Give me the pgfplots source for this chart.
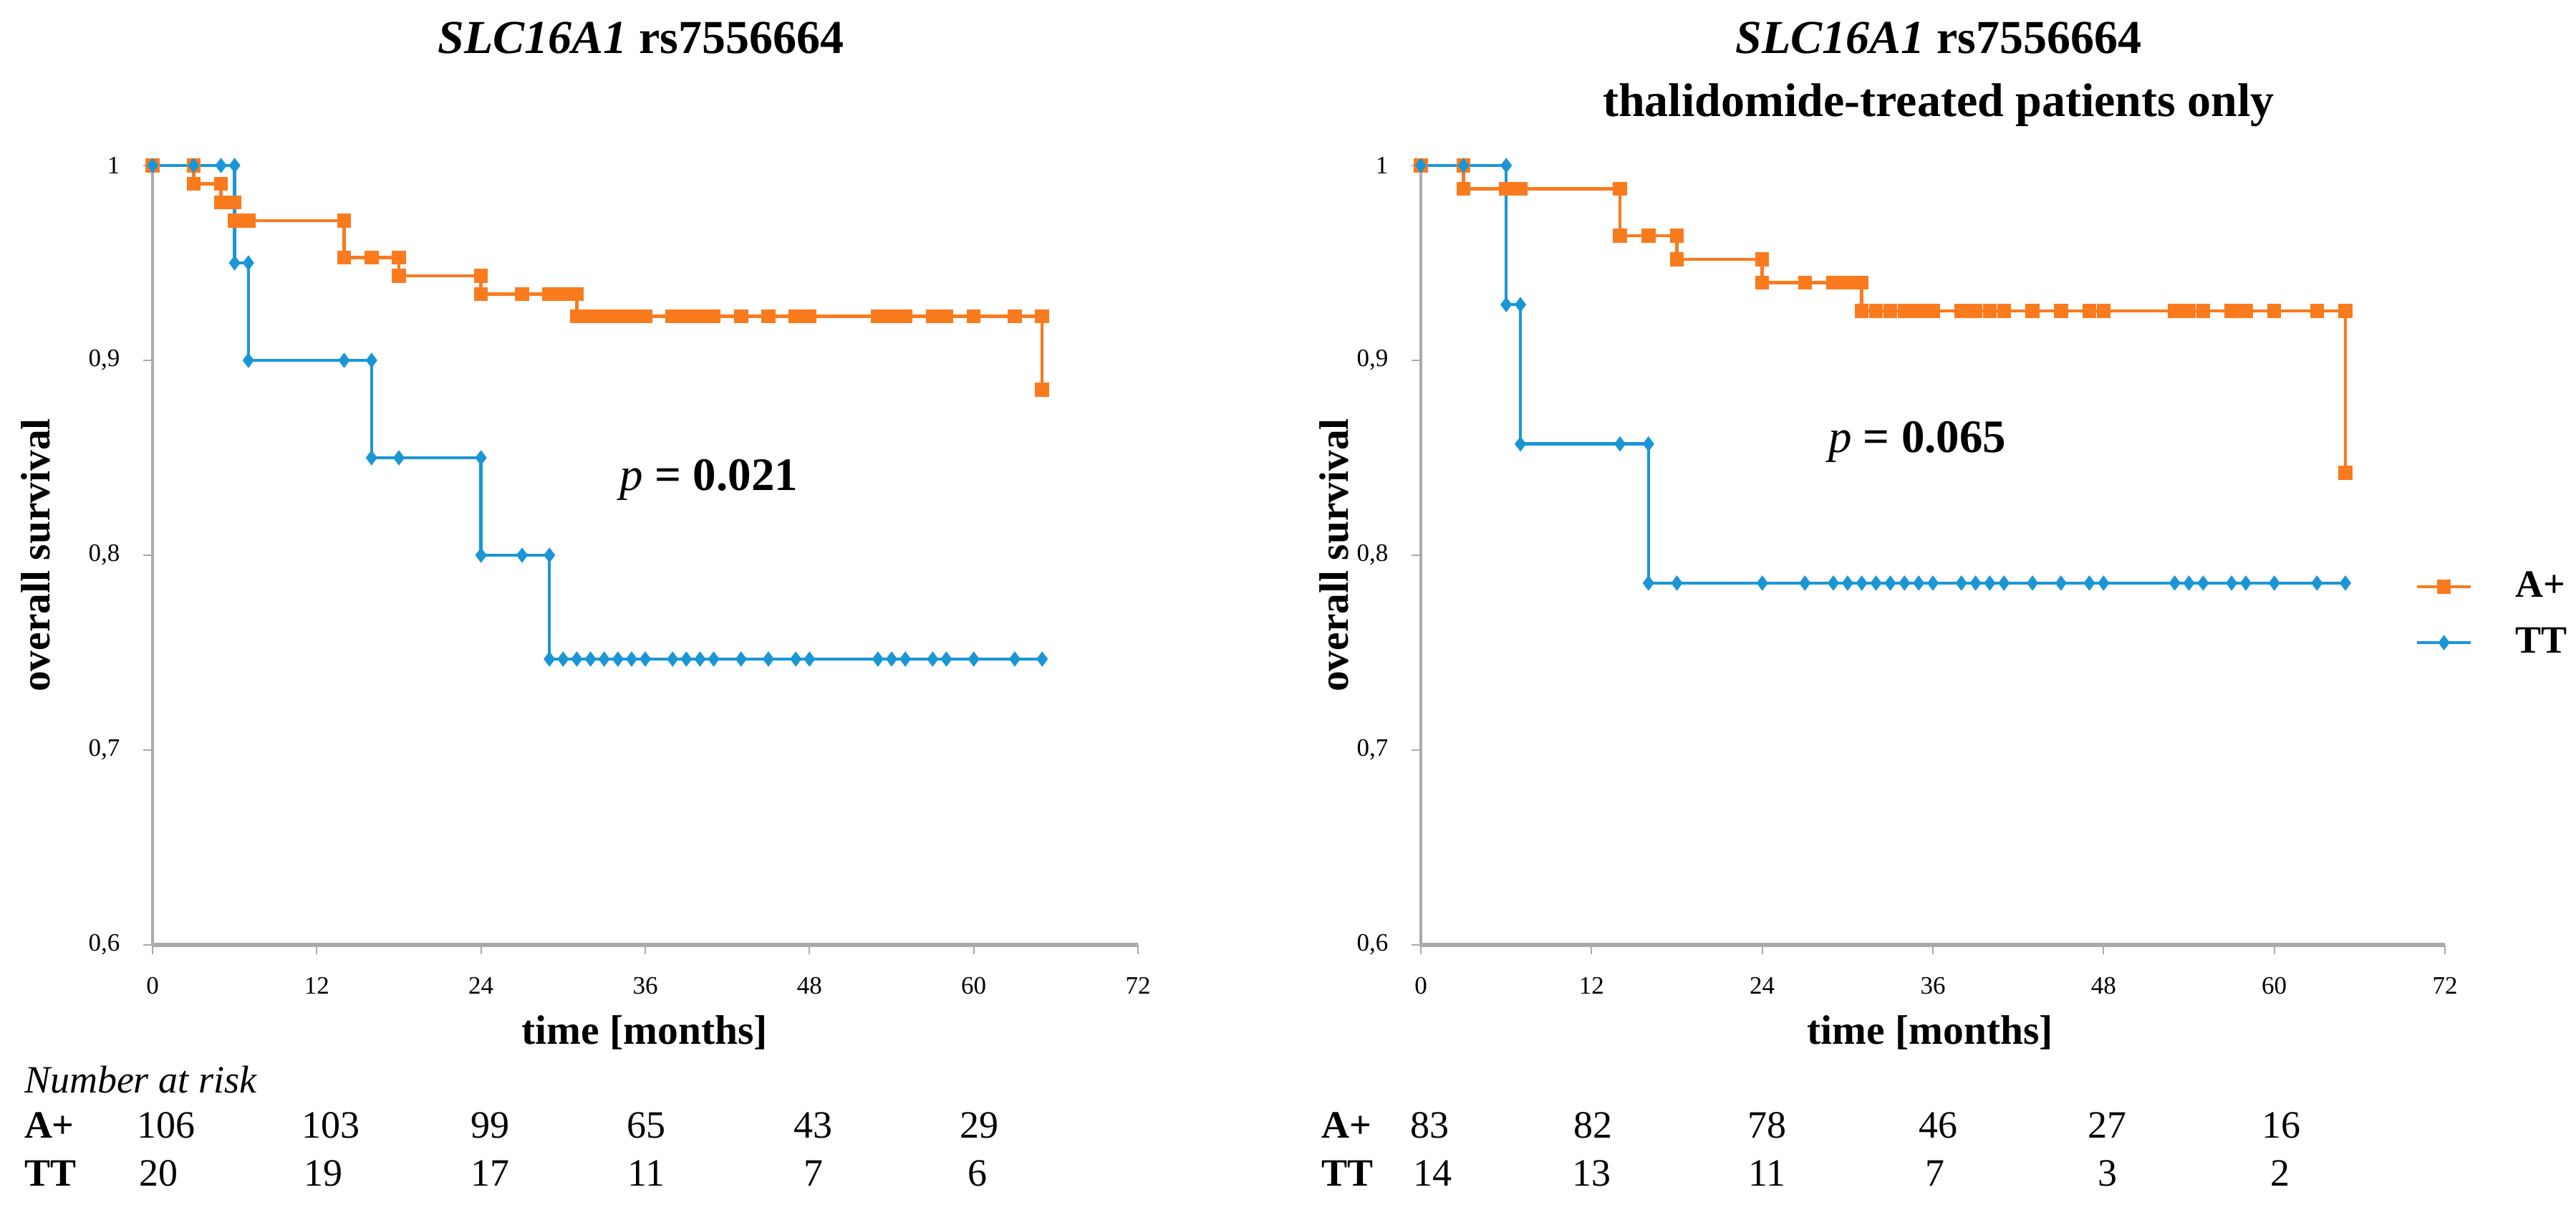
\documentclass[border=0pt]{standalone}
\usepackage{pgfplots}
\pgfplotsset{compat=1.18}
\usepackage{fontspec}
\setmainfont{Liberation Serif}
\definecolor{kmorange}{RGB}{250,122,30}
\definecolor{kmblue}{RGB}{26,150,214}
\definecolor{axgray}{RGB}{170,170,170}

\pgfplotsset{
  kmaxis/.style={
    scale only axis, height=217.6pt, anchor=south west,
    xmin=0, xmax=72, ymin=0.6, ymax=1,
    enlargelimits=false, clip=false,
    xtick={0,12,24,36,48,60,72},
    ytick={0.6,0.7,0.8,0.9,1},
    yticklabels={{0,6},{0,7},{0,8},{0,9},1},
    axis x line=bottom, axis y line=left,
    axis line style={-},
    x axis line style={draw=axgray, line width=1.2pt},
    y axis line style={draw=axgray, line width=0.9pt},
    tick align=outside, major tick length=2.6pt,
    tick style={draw=axgray, line width=0.45pt},
    tick label style={font=\fontsize{7pt}{8pt}\selectfont},
    /pgf/number format/assume math mode=true,
    yticklabel style={xshift=-3pt},
    xticklabel style={yshift=-3pt},
  },
  aplus/.style={color=kmorange, line width=0.9pt, mark=square*, mark size=1.8pt,
    mark options={solid, fill=kmorange, draw=kmorange, line width=0.3pt}},
  tt/.style={color=kmblue, line width=0.9pt, mark=diamond*, mark size=1.9pt,
    mark options={solid, fill=kmblue, draw=kmblue, line width=0.3pt}},
}

\begin{document}
\begin{tikzpicture}
\path[use as bounding box] (0,0) rectangle (719.4pt,337.6pt);

% ---------------- left panel ----------------
\begin{axis}[kmaxis, width=275.2pt, at={(42.6pt,73.8pt)}]
\addplot[aplus] coordinates {
(0,1) (3,1) (3,0.9906) (5,0.9906) (5,0.9811) (6,0.9811) (6,0.9717) (7,0.9717)
(14,0.9717) (14,0.9528) (16,0.9528) (18,0.9528) (18,0.9434) (24,0.9434)
(24,0.9340) (27,0.9340) (29,0.9340) (30,0.9340) (31,0.9340) (31,0.9226)
(32,0.9226) (33,0.9226) (34,0.9226) (35,0.9226) (36,0.9226) (38,0.9226)
(39,0.9226) (40,0.9226) (41,0.9226) (43,0.9226) (45,0.9226) (47,0.9226)
(48,0.9226) (53,0.9226) (54,0.9226) (54.6,0.9226) (55,0.9226) (57,0.9226)
(58,0.9226) (60,0.9226) (63,0.9226) (65,0.9226) (65,0.885)
};
\addplot[tt] coordinates {
(0,1) (3,1) (5,1) (6,1) (6,0.95) (7,0.95) (7,0.90) (14,0.90) (16,0.90)
(16,0.85) (18,0.85) (24,0.85) (24,0.80) (27,0.80) (29,0.80) (29,0.7467)
(30,0.7467) (31,0.7467) (32,0.7467) (33,0.7467) (34,0.7467) (35,0.7467)
(36,0.7467) (38,0.7467) (39,0.7467) (40,0.7467) (41,0.7467) (43,0.7467)
(45,0.7467) (47,0.7467) (48,0.7467) (53,0.7467) (54,0.7467) (55,0.7467)
(57,0.7467) (58,0.7467) (60,0.7467) (63,0.7467) (65,0.7467)
};
\node[anchor=base, font=\fontsize{13pt}{15pt}\selectfont] at (axis cs:40.66,0.8331)
  {\textit{p} \textbf{= 0.021}};
\end{axis}

% ---------------- right panel ----------------
\begin{axis}[kmaxis, width=286pt, at={(396.8pt,73.8pt)},
  legend cell align=left,
  legend image code/.code={\draw[#1, mark repeat=2, mark phase=2]
     plot coordinates {(0pt,0pt) (7.5pt,0pt) (15pt,0pt)};},
  legend style={draw=none, fill=none, at={(0.9706,0.4237)}, anchor=west,
     inner sep=0pt, row sep=3pt,
     font=\bfseries\fontsize{10.8pt}{13pt}\selectfont,
     /tikz/every odd column/.append style={column sep=10pt}},
]
\addplot[aplus] coordinates {
(0,1) (3,1) (3,0.9880) (6,0.9880) (7,0.9880) (14,0.9880) (14,0.9639)
(16,0.9639) (18,0.9639) (18,0.9518) (24,0.9518) (24,0.9398) (27,0.9398)
(29,0.9398) (30,0.9398) (31,0.9398) (31,0.9254) (32,0.9254) (33,0.9254)
(34,0.9254) (35,0.9254) (36,0.9254) (38,0.9254) (39,0.9254) (40,0.9254)
(41,0.9254) (43,0.9254) (45,0.9254) (47,0.9254) (48,0.9254) (53,0.9254)
(53.5,0.9254) (54,0.9254) (55,0.9254) (57,0.9254) (58,0.9254) (60,0.9254)
(63,0.9254) (65,0.9254) (65,0.8423)
};
\addlegendentry{A+}
\addplot[tt] coordinates {
(0,1) (3,1) (6,1) (6,0.9286) (7,0.9286) (7,0.8571) (14,0.8571) (16,0.8571)
(16,0.7857) (18,0.7857) (24,0.7857) (27,0.7857) (29,0.7857) (30,0.7857)
(31,0.7857) (32,0.7857) (33,0.7857) (34,0.7857) (35,0.7857) (36,0.7857)
(38,0.7857) (39,0.7857) (40,0.7857) (41,0.7857) (43,0.7857) (45,0.7857)
(47,0.7857) (48,0.7857) (53,0.7857) (54,0.7857) (55,0.7857) (57,0.7857)
(58,0.7857) (60,0.7857) (63,0.7857) (65,0.7857)
};
\addlegendentry{TT}
\node[anchor=base, font=\fontsize{13pt}{15pt}\selectfont] at (axis cs:34.9,0.8529)
  {\textit{p} \textbf{= 0.065}};
\end{axis}

% ---------------- titles and labels ----------------
\begin{scope}[every node/.style={inner sep=0pt}]
\node[anchor=base, font=\bfseries\fontsize{13.2pt}{15pt}\selectfont] at (179pt,322.6pt)
  {\textit{SLC16A1} rs7556664};
\node[anchor=base, font=\bfseries\fontsize{13.2pt}{15pt}\selectfont] at (541.4pt,322.6pt)
  {\textit{SLC16A1} rs7556664};
\node[anchor=base, font=\bfseries\fontsize{13.2pt}{15pt}\selectfont] at (541.4pt,305pt)
  {thalidomide-treated patients only};

\node[rotate=90, font=\bfseries\fontsize{11.5pt}{13pt}\selectfont] at (10pt,182.6pt) {overall survival};
\node[rotate=90, font=\bfseries\fontsize{11.5pt}{13pt}\selectfont] at (372.6pt,182.6pt) {overall survival};
\node[anchor=base, font=\bfseries\fontsize{11.5pt}{13pt}\selectfont] at (180pt,46.2pt) {time [months]};
\node[anchor=base, font=\bfseries\fontsize{11.5pt}{13pt}\selectfont] at (539pt,46.2pt) {time [months]};

% number at risk, left
\begin{scope}[font=\fontsize{10.8pt}{13pt}\selectfont]
\node[anchor=base west, font=\itshape\fontsize{10.8pt}{13pt}\selectfont] at (6.6pt,32.6pt) {Number at risk};
\node[anchor=base west, font=\bfseries\fontsize{10.8pt}{13pt}\selectfont] at (6.6pt,20pt) {A+};
\node[anchor=base west, font=\bfseries\fontsize{10.8pt}{13pt}\selectfont] at (6.6pt,6.6pt) {TT};
\node[anchor=base] at (46.4pt,20pt) {106};
\node[anchor=base] at (92.4pt,20pt) {103};
\node[anchor=base] at (136.8pt,20pt) {99};
\node[anchor=base] at (180.4pt,20pt) {65};
\node[anchor=base] at (227pt,20pt) {43};
\node[anchor=base] at (273.4pt,20pt) {29};
\node[anchor=base] at (44.2pt,6.6pt) {20};
\node[anchor=base] at (90.2pt,6.6pt) {19};
\node[anchor=base] at (136.8pt,6.6pt) {17};
\node[anchor=base] at (180.4pt,6.6pt) {11};
\node[anchor=base] at (227.2pt,6.6pt) {7};
\node[anchor=base] at (273pt,6.6pt) {6};
% number at risk, right
\node[anchor=base west, font=\bfseries\fontsize{10.8pt}{13pt}\selectfont] at (368.8pt,20pt) {A+};
\node[anchor=base west, font=\bfseries\fontsize{10.8pt}{13pt}\selectfont] at (368.8pt,6.6pt) {TT};
\node[anchor=base] at (399.2pt,20pt) {83};
\node[anchor=base] at (444.8pt,20pt) {82};
\node[anchor=base] at (493.4pt,20pt) {78};
\node[anchor=base] at (541.2pt,20pt) {46};
\node[anchor=base] at (588.4pt,20pt) {27};
\node[anchor=base] at (637pt,20pt) {16};
\node[anchor=base] at (400pt,6.6pt) {14};
\node[anchor=base] at (444.4pt,6.6pt) {13};
\node[anchor=base] at (493.4pt,6.6pt) {11};
\node[anchor=base] at (540.4pt,6.6pt) {7};
\node[anchor=base] at (588.6pt,6.6pt) {3};
\node[anchor=base] at (636.8pt,6.6pt) {2};
\end{scope}
\end{scope}
\end{tikzpicture}
\end{document}
